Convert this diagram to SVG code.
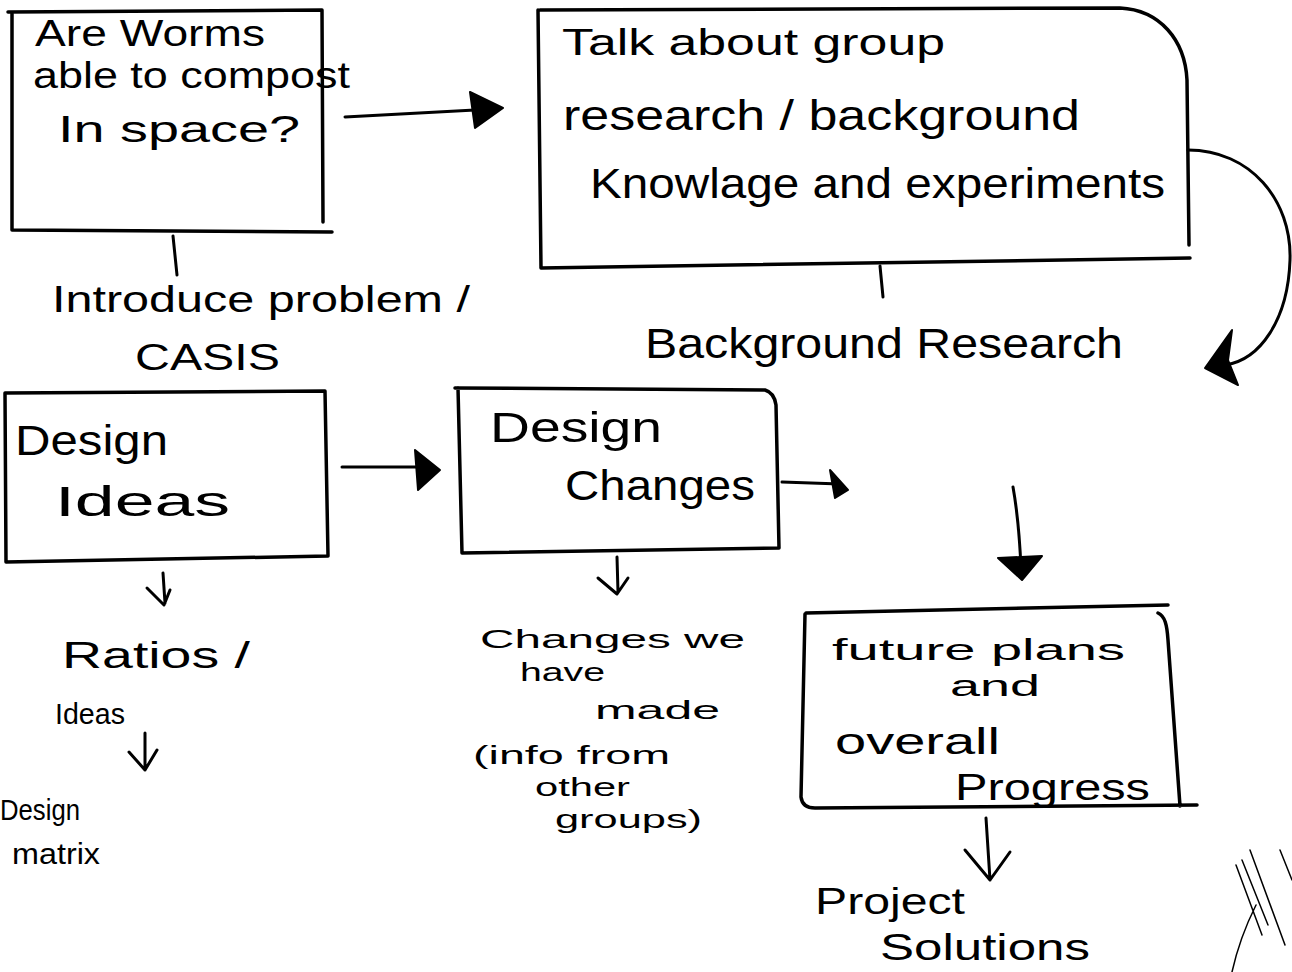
<svg xmlns="http://www.w3.org/2000/svg" width="1292" height="972" viewBox="0 0 1292 972">
<style>
.box{fill:none;stroke:#000;stroke-width:3.5;stroke-linecap:round;stroke-linejoin:round}
.ln{fill:none;stroke:#000;stroke-width:3;stroke-linecap:round;stroke-linejoin:round}
.thin{fill:none;stroke:#000;stroke-width:1.5;stroke-linecap:round}
.head{fill:#000;stroke:#000;stroke-width:2;stroke-linejoin:round}
text{font-family:"Liberation Sans","DejaVu Sans",sans-serif;fill:#000;font-weight:normal}
.t36{font-size:36px}
.t40{font-size:42px}
.t30{font-size:30px}
.t26{font-size:26px}
</style>
<rect width="1292" height="972" fill="#fff"/>

<g id="connectors">
  <path class="ln" d="M345 117 L475 110"/>
  <path class="head" d="M470 92 L503 108 L475 128 Z"/>
  <path class="ln" d="M173 236 L177 275"/>
  <path class="ln" d="M880 266 L883 297"/>
  <path class="ln" d="M1188 150 C1250 150 1292 200 1290 260 C1288 320 1260 360 1225 365"/>
  <path class="head" d="M1232 330 L1205 368 L1238 385 L1228 360 Z"/>
  <path class="ln" d="M342 467 L425 467"/>
  <path class="head" d="M415 450 L440 470 L418 490 Z"/>
  <path class="ln" d="M782 482 L840 484"/>
  <path class="head" d="M830 470 L848 490 L835 498 Z"/>
  <path class="ln" d="M1013 487 C1018 515 1020 545 1021 568"/>
  <path class="head" d="M998 558 L1042 556 L1022 580 Z"/>
  <path class="ln" d="M163 573 L165 603 M147 588 L164 605 L170 590"/>
  <path class="ln" d="M145 733 L145 770 M129 752 L145 770 L157 750"/>
  <path class="ln" d="M617 557 L618 592 M598 578 L617 594 L628 578"/>
  <path class="ln" d="M986 818 L990 880 M965 850 L990 880 L1010 852"/>
</g>

<g id="node-question">
  <path class="box" d="M8 12 L322 10 L323 222 M12 12 L12 230 L332 232"/>
  <text class="t36" x="35" y="46" textLength="230" lengthAdjust="spacingAndGlyphs">Are Worms</text>
  <text class="t36" x="33" y="88" textLength="317" lengthAdjust="spacingAndGlyphs">able to compost</text>
  <text class="t36" x="58" y="142" textLength="242" lengthAdjust="spacingAndGlyphs">In space?</text>
</g>

<g id="label-introduce">
  <text class="t36" x="52" y="312" textLength="418" lengthAdjust="spacingAndGlyphs">Introduce problem /</text>
  <text class="t36" x="135" y="370" textLength="145" lengthAdjust="spacingAndGlyphs">CASIS</text>
</g>

<g id="node-research">
  <path class="box" d="M540 10 L1120 8 C1160 10 1185 40 1187 80 L1189 245 M538 10 L541 268 L1190 258"/>
  <text class="t36" x="562" y="55" textLength="383" lengthAdjust="spacingAndGlyphs">Talk about group</text>
  <text class="t40" x="563" y="130" textLength="517" lengthAdjust="spacingAndGlyphs">research / background</text>
  <text class="t40" x="590" y="198" textLength="575" lengthAdjust="spacingAndGlyphs">Knowlage and experiments</text>
</g>

<g id="label-background">
  <text class="t40" x="645" y="358" textLength="478" lengthAdjust="spacingAndGlyphs">Background Research</text>
</g>

<g id="node-design-ideas">
  <path class="box" d="M5 393 L325 391 L328 556 L6 562 L5 393"/>
  <text class="t40" x="15" y="455" textLength="153" lengthAdjust="spacingAndGlyphs">Design</text>
  <text class="t40" x="55" y="516" textLength="175" lengthAdjust="spacingAndGlyphs">Ideas</text>
</g>

<g id="node-design-changes">
  <path class="box" d="M455 388 L765 390 C772 392 775 398 776 405 L779 548 L462 553 L458 388"/>
  <text class="t40" x="490" y="442" textLength="172" lengthAdjust="spacingAndGlyphs">Design</text>
  <text class="t40" x="565" y="500" textLength="190" lengthAdjust="spacingAndGlyphs">Changes</text>
</g>

<g id="label-ratios">
  <text class="t36" x="62" y="668" textLength="188" lengthAdjust="spacingAndGlyphs">Ratios /</text>
  <text class="t30" x="55" y="724" textLength="70" lengthAdjust="spacingAndGlyphs">Ideas</text>
</g>

<g id="label-design-matrix">
  <text class="t30" x="0" y="820" textLength="80" lengthAdjust="spacingAndGlyphs">Design</text>
  <text class="t30" x="12" y="864" textLength="88" lengthAdjust="spacingAndGlyphs">matrix</text>
</g>

<g id="label-changes-made">
  <text class="t26" x="480" y="648" textLength="265" lengthAdjust="spacingAndGlyphs">Changes we</text>
  <text class="t26" x="520" y="681" textLength="85" lengthAdjust="spacingAndGlyphs">have</text>
  <text class="t26" x="595" y="719" textLength="125" lengthAdjust="spacingAndGlyphs">made</text>
  <text class="t26" x="473" y="764" textLength="197" lengthAdjust="spacingAndGlyphs">(info from</text>
  <text class="t26" x="535" y="796" textLength="95" lengthAdjust="spacingAndGlyphs">other</text>
  <text class="t26" x="555" y="828" textLength="147" lengthAdjust="spacingAndGlyphs">groups)</text>
</g>

<g id="node-future">
  <path class="box" d="M806 613 L1168 605 M805 614 L801 797 C802 805 808 808 815 808 L1197 805 M1158 613 C1165 616 1167 625 1168 640 L1180 806"/>
  <text class="t30" x="832" y="660" textLength="293" lengthAdjust="spacingAndGlyphs">future plans</text>
  <text class="t30" x="950" y="696" textLength="90" lengthAdjust="spacingAndGlyphs">and</text>
  <text class="t36" x="835" y="754" textLength="165" lengthAdjust="spacingAndGlyphs">overall</text>
  <text class="t36" x="955" y="800" textLength="195" lengthAdjust="spacingAndGlyphs">Progress</text>
</g>

<g id="label-project">
  <text class="t36" x="815" y="914" textLength="150" lengthAdjust="spacingAndGlyphs">Project</text>
  <text class="t36" x="880" y="960" textLength="210" lengthAdjust="spacingAndGlyphs">Solutions</text>
</g>

<g id="scribble">
  <path class="thin" d="M1232 972 C1238 945 1246 925 1256 905 M1236 865 L1262 935 M1242 860 L1268 925 M1250 850 L1285 945 M1280 850 L1292 880"/>
</g>
</svg>
